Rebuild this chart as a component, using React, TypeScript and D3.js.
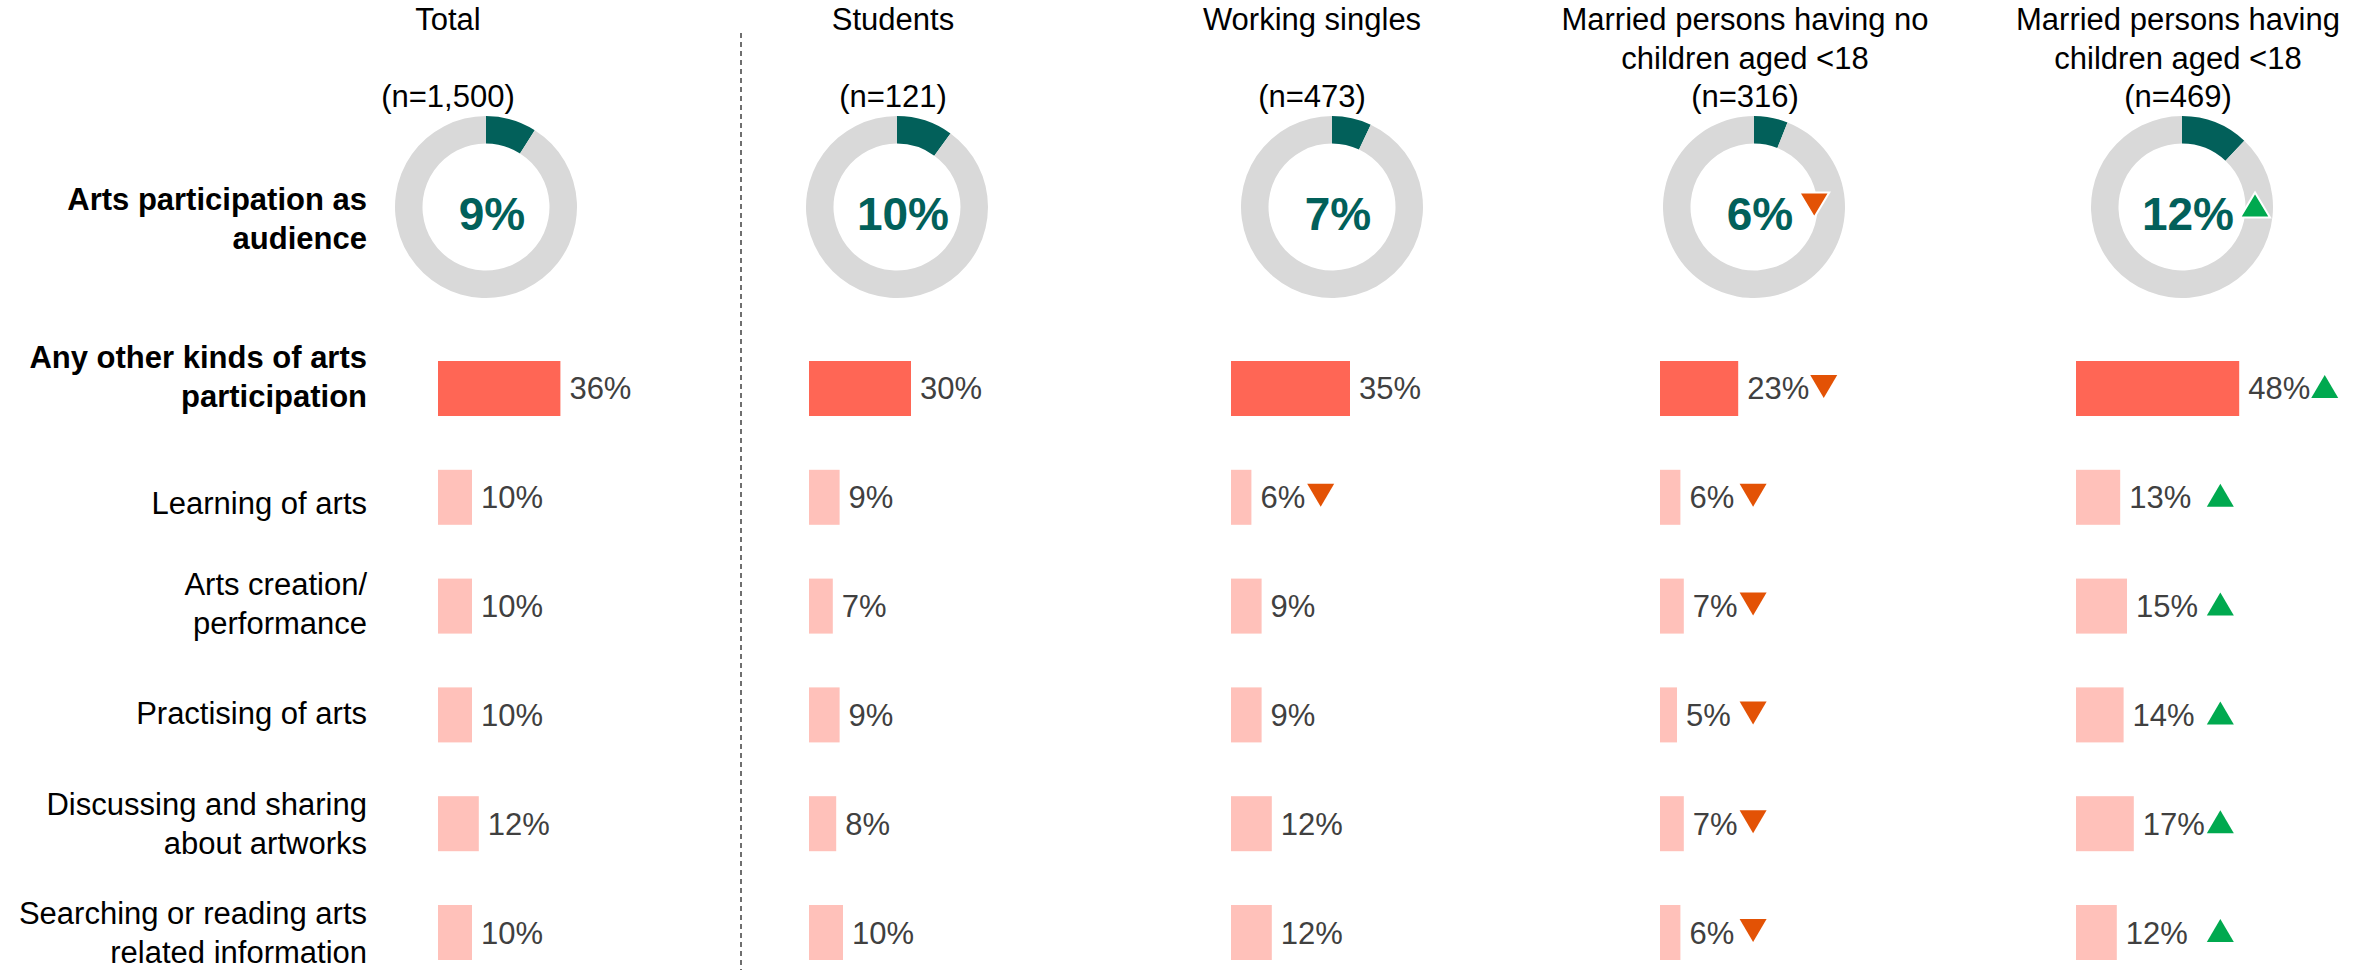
import React from "react";
import * as d3 from "d3";

// ---------- data ----------
const groupTitles: string[][] = [
  ["Total"],
  ["Students"],
  ["Working singles"],
  ["Married persons having no", "children aged <18"],
  ["Married persons having", "children aged <18"],
];
const sampleSizes = ["(n=1,500)", "(n=121)", "(n=473)", "(n=316)", "(n=469)"];

const audienceLabel = ["Arts participation as", "audience"];
const audienceValues = [9, 10, 7, 6, 12];
const audienceSig = [0, 0, 0, -1, 1];

const rowLabels: string[][] = [
  ["Any other kinds of arts", "participation"],
  ["Learning of arts"],
  ["Arts creation/", "performance"],
  ["Practising of arts"],
  ["Discussing and sharing", "about artworks"],
  ["Searching or reading arts", "related information"],
];
const rowBold = [true, false, false, false, false, false];

const totalValues = [36, 10, 10, 10, 12, 10];
const studentValues = [30, 9, 7, 9, 8, 10];
const workingValues = [35, 6, 9, 9, 12, 12];
const marriedNoChildValues = [23, 6, 7, 5, 7, 6];
const marriedChildValues = [48, 13, 15, 14, 17, 12];

const totalSig = [0, 0, 0, 0, 0, 0];
const studentSig = [0, 0, 0, 0, 0, 0];
const workingSig = [0, -1, 0, 0, 0, 0];
const marriedNoChildSig = [-1, -1, -1, -1, -1, -1];
const marriedChildSig = [1, 1, 1, 1, 1, 1];

const seriesValues = [totalValues, studentValues, workingValues, marriedNoChildValues, marriedChildValues];
const seriesSig = [totalSig, studentSig, workingSig, marriedNoChildSig, marriedChildSig];

// ---------- layout ----------
const W = 2371;
const H = 970;
const FONT = "'Liberation Sans', Arial, sans-serif";
const colTitleX = [448, 893, 1312, 1745, 2178];
const colDonutX = [486, 897, 1332, 1754, 2182];
const colBarX = [438, 809, 1231, 1660, 2076];
const labelRightX = 367;
const dividerX = 741;
const donutY = 207;
const outerR = 91;
const innerR = 63.5;
const labelShift = [-11, 6, -2, -1, 0, 0];
const audienceLabelShift = 12;
const lineH = 39;
const fs = 31;

const C = {
  teal: "#02605A",
  grey: "#D9D9D9",
  strong: "#FF6655",
  light: "#FFC1BA",
  value: "#404040",
  down: "#E35205",
  up: "#00A94F",
};

const xBar = d3.scaleLinear().domain([0, 100]).range([0, 340]);
const yRow = d3
  .scaleBand<number>()
  .domain(rowLabels.map((_, i) => i))
  .range([361, 960])
  .paddingInner(0.4945)
  .paddingOuter(0);

const pie = d3.pie<number>().sort(null).value((d) => d);
const arc = d3.arc<d3.PieArcDatum<number>>().innerRadius(innerR).outerRadius(outerR);

// approximate Arial widths
const textW = (s: string, size: number, bold = false) => {
  let w = 0;
  for (const ch of s) {
    if (ch >= "0" && ch <= "9") w += 0.556;
    else if (ch === "%") w += 0.889;
    else w += 0.5;
  }
  return w * size * (bold ? 1 : 1);
};

const tri = (cx: number, cy: number, w: number, h: number, up: boolean) => {
  const p = up
    ? [
        [cx - w / 2, cy + h / 2],
        [cx + w / 2, cy + h / 2],
        [cx, cy - h / 2],
      ]
    : [
        [cx - w / 2, cy - h / 2],
        [cx + w / 2, cy - h / 2],
        [cx, cy + h / 2],
      ];
  return "M" + p.map((q) => q.join(",")).join("L") + "Z";
};

const Label = ({ lines, cy, bold }: { lines: string[]; cy: number; bold: boolean }) => {
  const first = cy - ((lines.length - 1) * lineH) / 2 + 10.5;
  return (
    <text
      x={labelRightX}
      textAnchor="end"
      fontFamily={FONT}
      fontSize={fs}
      fontWeight={bold ? "bold" : "normal"}
      fill="#000"
    >
      {lines.map((l, i) => (
        <tspan key={i} x={labelRightX} y={first + i * lineH}>
          {l}
        </tspan>
      ))}
    </text>
  );
};

export default function App() {
  return (
    <svg
      width={W}
      height={H}
      viewBox={`0 0 ${W} ${H}`}
      style={{ position: "absolute", left: 0, top: 0, display: "block", background: "#fff" }}
    >
      <rect width={W} height={H} fill="#fff" />
      <line
        x1={dividerX}
        x2={dividerX}
        y1={33}
        y2={H}
        stroke="#404040"
        strokeWidth={1.5}
        strokeDasharray="5,4"
      />

      {/* column headers */}
      {groupTitles.map((lines, c) => (
        <g key={"t" + c}>
          {lines.map((l, i) => (
            <text
              key={i}
              x={colTitleX[c]}
              y={30 + i * 38.5}
              textAnchor="middle"
              fontFamily={FONT}
              fontSize={fs}
              fill="#000"
            >
              {l}
            </text>
          ))}
          <text
            x={colTitleX[c]}
            y={107}
            textAnchor="middle"
            fontFamily={FONT}
            fontSize={fs}
            fill="#000"
          >
            {sampleSizes[c]}
          </text>
        </g>
      ))}

      {/* audience donuts */}
      <Label lines={audienceLabel} cy={donutY + audienceLabelShift} bold={true} />
      {audienceValues.map((v, c) => {
        const arcs = pie([v, 100 - v]);
        const label = `${v}%`;
        const tx = colDonutX[c] + 6;
        const tw = textW(label, 46);
        return (
          <g key={"d" + c}>
            <g transform={`translate(${colDonutX[c]},${donutY})`}>
              {arcs.map((a, i) => (
                <path key={i} d={arc(a) || ""} fill={i === 0 ? C.teal : C.grey} />
              ))}
            </g>
            <text
              x={tx}
              y={230}
              textAnchor="middle"
              fontFamily={FONT}
              fontSize={46}
              fontWeight="bold"
              fill={C.teal}
            >
              {label}
            </text>
            {audienceSig[c] !== 0 && (
              <path
                d={tri(tx + tw / 2 + 6 + 15, donutY - 2, 30, 25, audienceSig[c] > 0)}
                fill={audienceSig[c] > 0 ? C.up : C.down}
                stroke="#fff"
                strokeWidth={2}
              />
            )}
          </g>
        );
      })}

      {/* row labels */}
      {rowLabels.map((lines, r) => (
        <Label
          key={"l" + r}
          lines={lines}
          cy={(yRow(r) as number) + yRow.bandwidth() / 2 + labelShift[r]}
          bold={rowBold[r]}
        />
      ))}

      {/* bars */}
      {seriesValues.map((vals, c) => {
        const sig = seriesSig[c];
        const ends = vals.map((v) => colBarX[c] + xBar(v) + 9 + textW(`${v}%`, fs));
        const smallMax = d3.max(
          vals.map((_, r) => r).filter((r) => r > 0 && sig[r] !== 0),
          (r) => ends[r]
        );
        return (
          <g key={"c" + c}>
            {vals.map((v, r) => {
              const y0 = yRow(r) as number;
              const cy = y0 + yRow.bandwidth() / 2;
              const triLeft = r === 0 ? ends[r] + 1 : (smallMax || 0) + 2;
              return (
                <g key={r}>
                  <rect
                    x={colBarX[c]}
                    y={y0}
                    width={xBar(v)}
                    height={yRow.bandwidth()}
                    fill={r === 0 ? C.strong : C.light}
                  />
                  <text
                    x={colBarX[c] + xBar(v) + 9}
                    y={cy + 11}
                    fontFamily={FONT}
                    fontSize={fs}
                    fill={C.value}
                  >
                    {`${v}%`}
                  </text>
                  {sig[r] !== 0 && (
                    <path
                      d={tri(triLeft + 13.5, cy - 2, 27, 23, sig[r] > 0)}
                      fill={sig[r] > 0 ? C.up : C.down}
                    />
                  )}
                </g>
              );
            })}
          </g>
        );
      })}
    </svg>
  );
}
